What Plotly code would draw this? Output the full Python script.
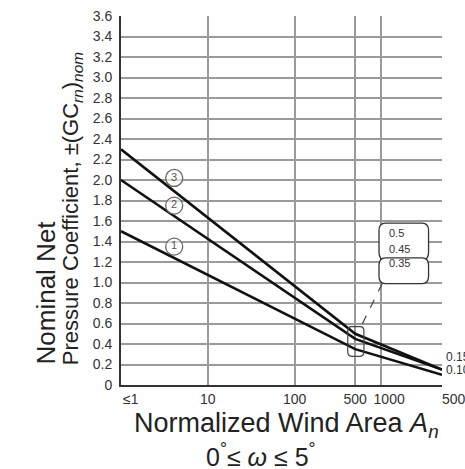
import math
import plotly.graph_objects as go

# ---- data ----
area_pts = [1, 500, 5000]
curve1 = [1.5, 0.35, 0.10]
curve2 = [2.0, 0.45, 0.15]
curve3 = [2.3, 0.50, 0.15]
curve_names = ["1", "2", "3"]
label_area = [4.1, 4.1, 4.1]
label_coef = [1.35, 1.75, 2.02]

x_tickvals = [1, 10, 100, 500, 1000, 5000]
x_ticktext = ["≤1", "10", "100", "500", "1000", "5000"]
y_tickvals = [round(0.2 * i, 1) for i in range(19)]
y_ticktext = ["0" if v == 0 else f"{v:.1f}" for v in y_tickvals]
box_values = ["0.5", "0.45", "0.35"]
end_values = ["0.15", "0.10"]

X_MAX = 5000
Y_MAX = 3.6

FONT = "Liberation Sans, Arial, sans-serif"
LINE = "#111111"
GRID = "#9a9a9a"

NB = "\u00a0"
# label offsets (non-breaking spaces) to mimic the reference's label placement
pad = {1: 5, 1000: 4, 5000: 8}
x_ticktext_shown = [NB * pad.get(v, 0) + t for v, t in zip(x_tickvals, x_ticktext)]

fig = go.Figure()
for ys in [curve1, curve2, curve3]:
    fig.add_trace(go.Scatter(x=area_pts, y=ys, mode="lines",
                             line=dict(color=LINE, width=2.6),
                             showlegend=False, hoverinfo="skip"))

fig.add_trace(go.Scatter(x=label_area, y=label_coef, mode="markers+text",
                         text=curve_names, textposition="middle center",
                         textfont=dict(family=FONT, size=11, color="#555555"),
                         marker=dict(symbol="circle", size=17, color="rgba(255,255,255,0.6)",
                                     line=dict(color="#666666", width=1.3)),
                         showlegend=False, hoverinfo="skip"))

# helpers to map data to paper coordinates
def px(xv):
    return math.log10(xv) / math.log10(X_MAX)

def py(yv):
    return yv / Y_MAX

def rounded(x0, x1, y0, y1, rx, ry):
    return (f"M {x0+rx},{y0} L {x1-rx},{y0} Q {x1},{y0} {x1},{y0+ry} "
            f"L {x1},{y1-ry} Q {x1},{y1} {x1-rx},{y1} L {x0+rx},{y1} "
            f"Q {x0},{y1} {x0},{y1-ry} L {x0},{y0+ry} Q {x0},{y0} {x0+rx},{y0} Z")

shapes = []
bx0, bx1 = px(940), px(3500)
rx, ry = 0.02, 0.02
shapes.append(dict(type="path", xref="paper", yref="paper",
                   path=rounded(bx0, bx1, py(1.22), py(1.58), rx, ry),
                   line=dict(color="#333", width=1.3), fillcolor="white", layer="above"))
shapes.append(dict(type="path", xref="paper", yref="paper",
                   path=rounded(bx0, bx1, py(0.99), py(1.24), rx, ry),
                   line=dict(color="#333", width=1.3), fillcolor="white", layer="above"))
# leader
shapes.append(dict(type="line", xref="paper", yref="paper",
                   x0=bx0 + 0.01, y0=py(0.99), x1=px(560), y1=py(0.54),
                   line=dict(color="#444", width=1.2, dash="dash")))
# small box around convergence at 500
shapes.append(dict(type="path", xref="paper", yref="paper",
                   path=rounded(px(410), px(630), py(0.28), py(0.57), 0.012, 0.012),
                   line=dict(color="#444", width=1.2)))

annotations = []
for v, yv in zip(box_values, [1.48, 1.33, 1.11]):
    annotations.append(dict(x=px(1150), y=py(yv), xref="paper", yref="paper",
                            text=v, showarrow=False, xanchor="left",
                            font=dict(family=FONT, size=11, color="#333")))
for v, yv in zip(end_values, [0.19, 0.06]):
    annotations.append(dict(x=1.005, y=py(yv), xref="paper", yref="paper",
                            text=v, showarrow=False, xanchor="left",
                            font=dict(family=FONT, size=12, color="#333")))

annotations.append(dict(x=-0.235, y=0.049, xref="paper", yref="paper",
                        text="Nominal Net", textangle=-90, showarrow=False,
                        xanchor="center", yanchor="bottom",
                        font=dict(family=FONT, size=26, color="#222")))
annotations.append(dict(x=-0.150, y=0.049, xref="paper", yref="paper",
                        text="Pressure Coefficient, ±(GC<sub><i>rn</i></sub>)<sub><i>nom</i></sub>",
                        textangle=-90, showarrow=False,
                        xanchor="center", yanchor="bottom",
                        font=dict(family=FONT, size=22, color="#222")))
annotations.append(dict(x=0.515, y=-0.108, xref="paper", yref="paper",
                        text="Normalized Wind Area <i>A</i><sub><i>n</i></sub>",
                        showarrow=False, xanchor="center", yanchor="middle",
                        font=dict(family=FONT, size=27, color="#222")))
annotations.append(dict(x=0.435, y=-0.19, xref="paper", yref="paper",
                        text="0<sup>°</sup>≤ <i>ω</i> ≤ 5<sup>°</sup>",
                        showarrow=False, xanchor="center", yanchor="middle",
                        font=dict(family=FONT, size=25, color="#222")))

fig.update_layout(
    width=465, height=469,
    margin=dict(l=121, r=23, t=16, b=84),
    paper_bgcolor="white", plot_bgcolor="white",
    shapes=shapes, annotations=annotations,
    xaxis=dict(type="log", range=[0, math.log10(X_MAX)],
               tickvals=x_tickvals, ticktext=x_ticktext_shown, tickangle=0,
               ticklabeloverflow="allow", automargin=False,
               showgrid=True, gridcolor=GRID, gridwidth=1.8,
               showline=True, linecolor="#333", linewidth=2,
               ticks="", ticklen=0, ticklabelstandoff=0,
               tickfont=dict(family=FONT, size=14, color="#333"),
               zeroline=False),
    yaxis=dict(range=[0, Y_MAX], tickvals=y_tickvals, ticktext=y_ticktext,
               automargin=False,
               showgrid=True, gridcolor=GRID, gridwidth=1.8,
               showline=True, linecolor="#333", linewidth=2,
               ticks="", ticklen=0, ticklabelstandoff=4,
               tickfont=dict(family=FONT, size=14, color="#333"),
               zeroline=False),
)

fig.write_html("out.html")
